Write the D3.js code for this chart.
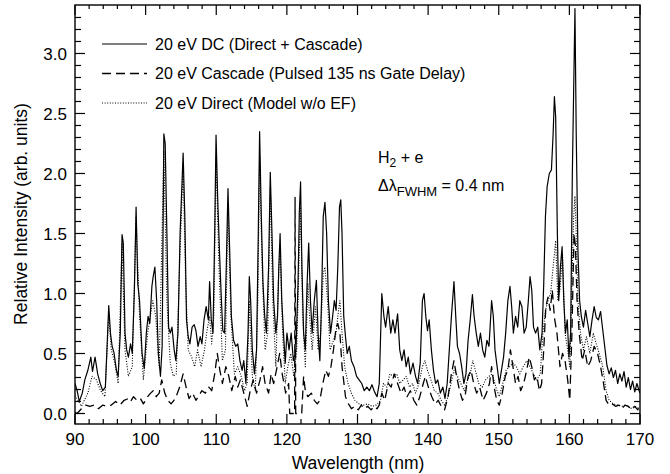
<!DOCTYPE html>
<html><head><meta charset="utf-8">
<script src="https://cdn.jsdelivr.net/npm/d3@7"></script>
<style>body{margin:0;background:#fff}svg{display:block}text{font-family:"Liberation Sans",Arial,sans-serif;fill:#000}</style>
</head><body><svg id="c" width="670" height="474"></svg>
<script>
// ---- data: [wavelength nm, relative intensity]
const dcSeries = [[90.00,0.25],[90.30,0.19],[90.61,0.10],[91.03,0.17],[91.39,0.28],[91.82,0.36],[92.24,0.47],[92.48,0.35],[92.84,0.47],[93.21,0.33],[93.57,0.25],[93.93,0.19],[94.30,0.22],[94.78,0.90],[95.02,0.67],[95.26,0.56],[95.51,0.51],[95.87,0.36],[96.11,0.31],[96.41,0.67],[96.66,1.49],[96.84,1.42],[97.08,0.67],[97.32,0.53],[97.56,0.47],[97.87,0.58],[98.11,0.50],[98.41,1.03],[98.65,1.72],[98.89,1.08],[99.14,0.94],[99.50,0.50],[99.80,0.375],[100.10,0.67],[100.35,0.81],[100.59,0.75],[100.89,1.06],[101.07,1.14],[101.31,1.22],[101.56,0.94],[101.80,0.50],[102.10,0.31],[102.34,0.56],[102.58,2.33],[102.77,2.25],[103.01,1.50],[103.25,0.72],[103.49,0.67],[103.73,0.72],[104.04,0.53],[104.28,0.44],[104.58,0.67],[104.88,1.50],[105.31,2.17],[105.55,1.64],[105.79,0.78],[106.03,0.64],[106.27,0.58],[106.58,0.72],[106.88,0.74],[107.12,0.69],[107.42,0.56],[107.73,0.64],[107.97,0.58],[108.27,0.78],[108.57,0.89],[108.88,0.78],[109.06,1.10],[109.30,0.78],[109.54,0.67],[109.78,1.50],[109.97,2.32],[110.21,1.78],[110.45,1.36],[110.69,1.00],[110.93,0.69],[111.18,0.67],[111.42,1.22],[111.66,1.875],[111.90,1.36],[112.14,0.81],[112.45,0.61],[112.75,0.56],[113.05,0.58],[113.35,0.44],[113.66,0.36],[113.90,0.44],[114.20,0.25],[114.50,0.67],[114.68,1.14],[114.87,0.94],[115.11,0.53],[115.41,0.33],[115.71,0.53],[115.95,1.50],[116.14,2.35],[116.38,1.64],[116.62,1.08],[116.86,0.81],[117.10,0.67],[117.41,1.22],[117.65,2.01],[117.89,1.50],[118.13,0.94],[118.44,0.67],[118.68,0.81],[118.86,1.22],[119.04,1.50],[119.28,0.94],[119.52,0.67],[119.77,0.42],[120.01,0.67],[120.31,0.53],[120.61,0.67],[120.92,0.44],[121.28,0.53],[121.58,1.08],[121.76,1.67],[121.94,1.93],[122.13,1.22],[122.37,0.67],[122.61,0.53],[122.85,1.06],[123.09,1.42],[123.34,0.94],[123.58,0.67],[123.88,0.94],[124.18,1.11],[124.42,0.67],[124.67,0.44],[124.91,0.94],[125.15,1.64],[125.39,1.76],[125.63,1.50],[125.88,0.94],[126.18,0.67],[126.48,0.81],[126.72,0.94],[126.97,0.86],[127.21,1.22],[127.45,1.72],[127.63,1.78],[127.81,1.50],[128.05,0.81],[128.30,0.64],[128.54,0.50],[128.84,0.56],[129.14,0.44],[129.51,0.39],[129.87,0.31],[130.23,0.28],[130.60,0.25],[130.96,0.19],[131.32,0.22],[131.68,0.19],[132.05,0.24],[132.41,0.18],[132.77,0.14],[133.08,0.25],[133.44,1.00],[133.74,0.81],[133.98,0.72],[134.35,0.89],[134.71,0.67],[135.01,0.78],[135.31,0.67],[135.68,0.83],[135.98,0.53],[136.28,0.44],[136.59,0.53],[136.89,0.39],[137.19,0.47],[137.49,0.33],[137.86,0.42],[138.22,0.31],[138.52,0.25],[138.88,0.42],[139.19,0.94],[139.43,1.00],[139.67,0.81],[139.91,0.69],[140.15,0.78],[140.46,0.53],[140.76,0.36],[141.06,0.25],[141.36,0.28],[141.73,0.17],[142.09,0.22],[142.39,0.125],[142.70,0.25],[143.00,0.53],[143.30,0.81],[143.66,1.10],[143.91,0.81],[144.15,0.56],[144.45,0.50],[144.75,0.39],[145.06,0.25],[145.36,0.33],[145.66,0.61],[145.96,0.78],[146.27,0.99],[146.51,0.81],[146.81,0.67],[147.11,0.56],[147.41,0.67],[147.72,0.53],[148.02,0.47],[148.32,0.61],[148.62,0.56],[148.99,0.94],[149.23,0.81],[149.47,0.53],[149.77,0.39],[150.08,0.25],[150.38,0.36],[150.68,0.47],[150.98,0.67],[151.29,0.94],[151.59,1.06],[151.83,0.89],[152.07,0.67],[152.38,0.81],[152.68,0.72],[152.98,0.94],[153.28,0.89],[153.59,0.67],[153.89,0.72],[154.19,0.94],[154.43,1.14],[154.67,1.03],[154.92,0.72],[155.22,0.67],[155.52,0.72],[155.82,0.53],[156.13,0.67],[156.37,1.08],[156.61,1.64],[156.85,1.89],[157.16,2.00],[157.46,2.03],[157.70,2.33],[157.88,2.64],[158.06,2.47],[158.30,1.50],[158.49,0.94],[158.73,1.22],[158.97,1.39],[159.21,0.94],[159.45,0.67],[159.70,0.78],[159.94,0.47],[160.18,0.67],[160.42,2.00],[160.66,2.89],[160.79,3.375],[160.97,2.33],[161.21,1.36],[161.45,0.94],[161.69,0.81],[161.99,0.72],[162.30,0.86],[162.60,0.75],[162.90,0.64],[163.21,0.78],[163.51,0.89],[163.81,0.80],[164.11,0.78],[164.42,0.85],[164.72,0.70],[165.02,0.55],[165.32,0.40],[165.63,0.33],[165.93,0.38],[166.23,0.30],[166.53,0.36],[166.84,0.25],[167.14,0.33],[167.44,0.27],[167.74,0.35],[168.05,0.22],[168.35,0.30],[168.65,0.20],[168.95,0.27],[169.26,0.18],[169.56,0.25],[169.98,0.17]];

const cascadeSeries = [[90.00,0.01],[90.30,0.00],[90.91,0.04],[91.51,0.07],[92.12,0.06],[92.72,0.07],[93.33,0.04],[93.93,0.07],[94.54,0.06],[95.14,0.07],[95.75,0.10],[96.35,0.07],[96.96,0.11],[97.56,0.125],[97.87,0.10],[98.29,0.14],[98.77,0.11],[99.26,0.125],[99.68,0.08],[100.29,0.14],[100.71,0.17],[101.07,0.19],[101.50,0.14],[101.92,0.17],[102.28,0.28],[102.71,0.17],[103.13,0.11],[103.61,0.08],[104.22,0.125],[104.82,0.22],[105.31,0.33],[105.73,0.22],[106.15,0.125],[106.64,0.17],[107.12,0.11],[107.55,0.15],[107.97,0.19],[108.45,0.17],[108.94,0.22],[109.36,0.19],[109.78,0.33],[110.15,0.50],[110.51,0.36],[110.87,0.25],[111.36,0.39],[111.78,0.31],[112.20,0.19],[112.69,0.31],[113.05,0.22],[113.41,0.28],[113.90,0.17],[114.38,0.06],[114.81,0.19],[115.23,0.28],[115.71,0.17],[116.20,0.28],[116.56,0.39],[116.92,0.25],[117.41,0.17],[117.77,0.33],[118.13,0.25],[118.62,0.39],[118.98,0.50],[119.34,0.33],[119.83,0.17],[120.25,0.25],[120.40,0.00],[121.10,0.00],[121.16,1.80],[121.25,0.00],[122.10,0.00],[122.37,0.31],[122.61,0.19],[122.97,0.14],[123.46,0.17],[123.88,0.11],[124.30,0.08],[124.67,0.11],[125.09,0.25],[125.51,0.36],[125.88,0.31],[126.24,0.39],[126.60,0.53],[126.97,0.72],[127.21,0.75],[127.51,0.67],[127.81,0.39],[128.30,0.14],[128.72,0.08],[129.14,0.04],[129.63,0.06],[130.11,0.03],[130.54,0.07],[130.96,0.04],[131.44,0.06],[131.93,0.03],[132.35,0.06],[132.77,0.04],[133.08,0.07],[133.44,0.17],[133.86,0.11],[134.35,0.25],[134.77,0.22],[135.19,0.33],[135.68,0.25],[136.16,0.17],[136.59,0.22],[137.01,0.14],[137.49,0.19],[137.98,0.11],[138.40,0.07],[138.82,0.14],[139.31,0.25],[139.61,0.31],[140.03,0.22],[140.52,0.14],[141.00,0.08],[141.43,0.11],[141.85,0.06],[142.33,0.03],[142.82,0.14],[143.24,0.31],[143.66,0.44],[144.03,0.31],[144.45,0.19],[144.87,0.11],[145.24,0.15],[145.66,0.31],[146.08,0.36],[146.45,0.25],[146.87,0.17],[147.29,0.22],[147.78,0.11],[148.26,0.17],[148.69,0.25],[148.99,0.39],[149.35,0.22],[149.71,0.11],[150.08,0.07],[150.50,0.17],[150.92,0.31],[151.29,0.36],[151.65,0.53],[152.01,0.39],[152.38,0.25],[152.74,0.31],[153.10,0.19],[153.53,0.25],[153.95,0.36],[154.31,0.47],[154.67,0.39],[155.04,0.28],[155.40,0.31],[155.76,0.19],[156.07,0.25],[156.37,0.53],[156.67,0.89],[156.97,0.97],[157.28,0.86],[157.58,1.03],[157.88,0.80],[158.24,0.67],[158.67,0.39],[159.03,0.50],[159.39,0.44],[159.76,0.28],[160.06,0.11],[160.36,0.67],[160.66,1.50],[160.85,1.40],[161.09,0.94],[161.39,0.67],[161.81,0.44],[162.18,0.53],[162.60,0.39],[163.02,0.44],[163.51,0.56],[163.99,0.50],[164.42,0.39],[164.84,0.25],[165.20,0.11],[165.63,0.07],[166.05,0.08],[166.53,0.06],[167.02,0.07],[167.44,0.04],[167.86,0.07],[168.35,0.06],[168.83,0.03],[169.26,0.06],[169.68,0.03],[169.98,0.07]];

const directSeries = [[90.00,0.15],[90.91,0.06],[91.82,0.17],[92.42,0.31],[93.03,0.28],[93.63,0.19],[94.24,0.14],[94.78,0.83],[95.14,0.53],[95.63,0.42],[96.11,0.25],[96.66,1.42],[97.08,0.53],[97.56,0.31],[98.11,0.39],[98.65,1.64],[99.14,0.81],[99.68,0.28],[100.29,0.67],[101.01,0.94],[101.43,0.81],[101.92,0.39],[102.58,2.19],[103.01,0.94],[103.49,0.42],[103.92,0.31],[104.34,0.33],[104.88,1.36],[105.31,2.06],[105.67,1.08],[106.03,0.53],[106.52,0.47],[106.94,0.39],[107.36,0.53],[107.85,0.39],[108.33,0.53],[108.69,0.69],[109.06,0.81],[109.36,0.58],[109.66,0.81],[109.97,2.14],[110.39,1.22],[110.87,0.44],[111.30,0.53],[111.66,1.72],[112.08,0.81],[112.57,0.33],[113.05,0.39],[113.53,0.31],[114.02,0.19],[114.38,0.25],[114.68,0.94],[115.11,0.31],[115.53,0.19],[115.89,0.94],[116.14,2.14],[116.50,1.22],[116.92,0.53],[117.29,0.67],[117.65,1.89],[118.01,0.94],[118.44,0.39],[118.86,1.22],[119.04,1.36],[119.40,0.67],[119.77,0.25],[120.13,0.39],[120.55,0.50],[120.98,0.31],[121.40,0.53],[121.76,1.36],[121.94,1.72],[122.25,0.81],[122.61,0.39],[122.97,1.08],[123.21,0.81],[123.58,0.53],[124.06,0.89],[124.42,0.53],[124.79,0.67],[125.15,1.17],[125.39,1.22],[125.76,0.94],[126.12,0.53],[126.60,0.61],[126.97,0.67],[127.21,0.81],[127.51,0.94],[127.81,0.67],[128.18,0.39],[128.66,0.25],[129.14,0.17],[129.63,0.11],[130.23,0.08],[130.84,0.07],[131.44,0.08],[132.05,0.06],[132.65,0.07],[133.26,0.11],[133.68,0.25],[134.17,0.22],[134.59,0.33],[135.07,0.31],[135.56,0.33],[135.98,0.25],[136.46,0.28],[136.89,0.31],[137.37,0.22],[137.80,0.25],[138.22,0.17],[138.70,0.25],[139.19,0.39],[139.55,0.44],[139.91,0.36],[140.40,0.28],[140.88,0.19],[141.36,0.17],[141.85,0.11],[142.33,0.07],[142.82,0.14],[143.24,0.25],[143.66,0.36],[144.15,0.31],[144.63,0.25],[145.12,0.19],[145.60,0.28],[145.96,0.33],[146.33,0.44],[146.69,0.36],[147.17,0.25],[147.66,0.22],[148.14,0.28],[148.62,0.31],[149.11,0.33],[149.59,0.22],[150.08,0.14],[150.56,0.25],[151.04,0.36],[151.53,0.39],[152.01,0.42],[152.50,0.39],[152.98,0.33],[153.46,0.39],[153.95,0.44],[154.43,0.39],[154.92,0.33],[155.40,0.28],[155.88,0.33],[156.25,0.67],[156.61,0.86],[156.97,0.94],[157.34,1.00],[157.70,1.22],[158.06,1.44],[158.36,0.94],[158.67,1.03],[159.03,1.33],[159.39,0.67],[159.76,0.53],[160.06,0.39],[160.36,1.08],[160.61,1.64],[160.79,1.81],[160.97,1.50],[161.21,0.94],[161.57,0.67],[161.99,0.53],[162.42,0.64],[162.90,0.50],[163.39,0.67],[163.81,0.58],[164.23,0.50],[164.72,0.39],[165.20,0.19],[165.63,0.11],[166.23,0.08],[166.84,0.07],[167.44,0.06],[168.05,0.07],[168.65,0.04],[169.26,0.06],[169.98,0.04]];

const xTickValues = [90,100,110,120,130,140,150,160,170];
const yTickValues = [0.0,0.5,1.0,1.5,2.0,2.5,3.0];
const legendLabels = ["20 eV DC (Direct + Cascade)","20 eV Cascade (Pulsed 135 ns Gate Delay)","20 eV Direct (Model w/o EF)"];

// ---- layout
const svg = d3.select("#c");
const L=75, R=640, T=5, B=424;
const x = d3.scaleLinear().domain([90,170]).range([L,R]);
const y = d3.scaleLinear().domain([-0.0875,3.404]).range([B,T]);

const styles = [
  {w:1.2, dash:null},
  {w:1.3, dash:"9,5"},
  {w:1.1, dash:"1,1.6"}
];
const line = d3.line().x(d=>x(d[0])).y(d=>y(d[1]));

const clip = svg.append("clipPath").attr("id","pc").append("rect").attr("x",L).attr("y",T).attr("width",R-L).attr("height",B-T);
const plot = svg.append("g").attr("clip-path","url(#pc)");
[cascadeSeries, directSeries, dcSeries].forEach((s,i)=>{
  const st = [styles[1],styles[2],styles[0]][i];
  plot.append("path").datum(s).attr("d",line).attr("fill","none").attr("stroke","#000")
    .attr("stroke-width",st.w).attr("stroke-dasharray",st.dash).attr("stroke-linejoin","round");
});

// ---- axes
const xMinor = d3.range(90,171,2);
const yMinor = d3.range(0,34).map(d=>d/10);
const ax = svg.append("g").attr("stroke","#000").attr("stroke-width",1.2);
// bottom & top ticks (inward)
ax.selectAll(".xb").data(xMinor).join("line").attr("x1",d=>x(d)).attr("x2",d=>x(d))
  .attr("y1",B).attr("y2",d=>B-(d%10===0?10:5));
ax.selectAll(".xt").data(xMinor).join("line").attr("x1",d=>x(d)).attr("x2",d=>x(d))
  .attr("y1",T).attr("y2",d=>T+(d%10===0?10:4));
const isMajY = d=>Math.abs(d*2-Math.round(d*2))<1e-6;
ax.selectAll(".yl").data(yMinor).join("line").attr("y1",d=>y(d)).attr("y2",d=>y(d))
  .attr("x1",L).attr("x2",d=>L+(isMajY(d)?10:6));
ax.selectAll(".yr").data(yMinor).join("line").attr("y1",d=>y(d)).attr("y2",d=>y(d))
  .attr("x1",R).attr("x2",d=>R-(isMajY(d)?10:6));
svg.append("rect").attr("x",L).attr("y",T).attr("width",R-L).attr("height",B-T)
  .attr("fill","none").attr("stroke","#000").attr("stroke-width",1.4);

svg.append("g").selectAll("text").data(xTickValues).join("text")
  .attr("x",d=>x(d)).attr("y",445).attr("text-anchor","middle").attr("font-size",17).text(d=>d);
svg.append("g").selectAll("text").data(yTickValues).join("text")
  .attr("x",67).attr("y",d=>y(d)).attr("dy","0.36em").attr("text-anchor","end").attr("font-size",17).text(d=>d.toFixed(1));

svg.append("text").attr("x",358).attr("y",469).attr("text-anchor","middle").attr("font-size",17.5).text("Wavelength (nm)");
svg.append("text").attr("transform","translate(27,214) rotate(-90)").attr("text-anchor","middle").attr("font-size",17.5).text("Relative Intensity (arb. units)");

// ---- legend
const legY = [44,73.5,103];
const lg = svg.append("g");
legendLabels.forEach((t,i)=>{
  const st = styles[i];
  lg.append("line").attr("x1",102).attr("x2",147).attr("y1",legY[i]).attr("y2",legY[i])
    .attr("stroke","#000").attr("stroke-width",st.w).attr("stroke-dasharray",st.dash);
  lg.append("text").attr("x",155).attr("y",legY[i]).attr("dy","0.36em").attr("font-size",16).text(t);
});

// ---- annotation
const a1 = svg.append("text").attr("x",378).attr("y",163).attr("font-size",16);
a1.append("tspan").text("H");
a1.append("tspan").attr("font-size",12).attr("dy",4).text("2");
a1.append("tspan").attr("dy",-4).text(" + e");
const a2 = svg.append("text").attr("x",378).attr("y",191).attr("font-size",16);
a2.append("tspan").text("Δλ");
a2.append("tspan").attr("font-size",13).attr("dy",5).text("FWHM");
a2.append("tspan").attr("dy",-5).text(" = 0.4 nm");
</script></body></html>
